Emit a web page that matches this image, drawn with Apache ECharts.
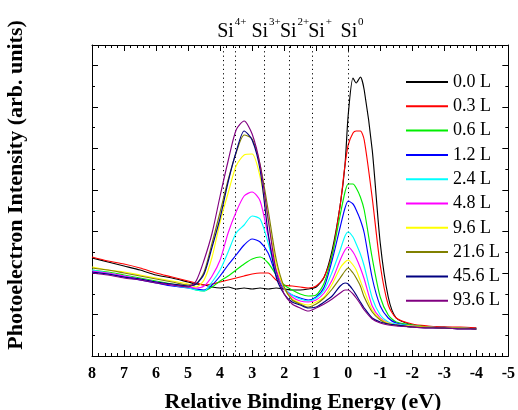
<!DOCTYPE html>
<html><head><meta charset="utf-8">
<script src="https://cdn.jsdelivr.net/npm/echarts@6/dist/echarts.min.js"></script>
<style>html,body{margin:0;padding:0;background:#fff}#c{width:518px;height:410px}</style>
</head><body><div id="c"></div>
<script>
// Relative binding energy (eV)
const energies = [8, 7.5, 7, 6.5, 6, 5.5, 5, 4.75, 4.5, 4.25, 4, 3.75, 3.5, 3.25, 3, 2.75, 2.5, 2.25, 2, 1.75, 1.5, 1.25, 1, 0.75, 0.5, 0.25, 0.1, 0, -0.15, -0.25, -0.38, -0.5, -0.75, -1, -1.25, -1.5, -2, -2.5, -3, -3.5, -4];
// Photoelectron intensity (arb. units) per exposure
const i00 = [98, 94, 90, 86, 81, 78, 74, 72, 71, 69, 68, 69, 67, 68, 67, 68, 67, 68, 67, 66, 66, 67, 69, 79, 106, 151, 191, 241, 278, 273, 279, 266, 206, 113, 59, 38, 31, 29, 29, 28, 28];
const i03 = [99, 95, 92, 88, 83, 79, 75, 73, 71, 72, 74, 76, 78, 80, 82, 83, 83, 76, 71, 70, 69, 68, 70, 79, 102, 151, 191, 211, 223, 225, 225, 216, 158, 91, 51, 38, 32, 30, 29, 29, 28];
const i06 = [86, 84, 81, 78, 75, 72, 69, 66, 65, 69, 75, 80, 86, 92, 97, 99, 93, 81, 71, 66, 62, 60, 61, 73, 101, 141, 164, 172, 172, 168, 159, 146, 98, 59, 41, 34, 31, 29, 28, 28, 27];
const i12 = [84, 82, 79, 76, 73, 70, 68, 67, 66, 71, 80, 91, 101, 111, 117, 114, 103, 81, 67, 61, 58, 56, 59, 69, 96, 129, 148, 155, 152, 146, 136, 123, 78, 50, 38, 33, 30, 29, 28, 28, 27];
const i24 = [86, 83, 80, 77, 74, 71, 68, 66, 65, 74, 86, 104, 123, 131, 140, 137, 113, 83, 68, 61, 57, 55, 58, 66, 84, 106, 120, 124, 119, 112, 102, 90, 58, 41, 34, 32, 30, 29, 28, 28, 27];
const i48 = [85, 83, 80, 77, 74, 71, 69, 68, 70, 80, 96, 123, 144, 160, 164, 155, 120, 86, 68, 59, 55, 54, 56, 63, 76, 96, 106, 109, 104, 98, 88, 77, 50, 38, 33, 31, 30, 29, 28, 28, 27];
const i96 = [89, 86, 84, 81, 78, 75, 72, 69, 76, 99, 134, 163, 190, 201, 202, 179, 136, 92, 68, 57, 53, 51, 54, 59, 72, 88, 94, 96, 91, 86, 75, 65, 46, 37, 33, 31, 30, 29, 28, 28, 27];
const i216 = [88, 86, 83, 80, 77, 74, 71, 72, 84, 113, 144, 176, 203, 221, 217, 191, 146, 97, 69, 56, 52, 49, 52, 58, 67, 78, 85, 88, 83, 78, 70, 59, 44, 36, 32, 31, 29, 29, 28, 28, 27];
const i456 = [84, 82, 79, 77, 74, 72, 70, 72, 82, 109, 138, 174, 204, 225, 216, 186, 123, 79, 62, 54, 51, 48, 49, 54, 60, 70, 73, 72, 66, 61, 54, 48, 38, 34, 32, 31, 29, 28, 28, 27, 27];
const i936 = [83, 81, 78, 76, 73, 71, 69, 75, 96, 123, 160, 195, 226, 235, 222, 191, 137, 85, 62, 52, 48, 45, 48, 52, 57, 63, 66, 66, 62, 58, 52, 46, 37, 33, 31, 30, 29, 28, 28, 27, 27];

const seriesNames = ['0.0 L', '0.3 L', '0.6 L', '1.2 L', '2.4 L', '4.8 L', '9.6 L', '21.6 L', '45.6 L', '93.6 L'];
const seriesValues = [i00, i03, i06, i12, i24, i48, i96, i216, i456, i936];
const seriesColors = ['#000000', '#ff0000', '#00ee00', '#0000ff', '#00ffff', '#ff00ff', '#ffff00', '#808000', '#000080', '#800080'];

// Chemical-shift component positions (eV) and labels
const componentEnergies = [3.91, 3.52, 2.62, 1.84, 1.12, 0];
const componentBase = ['Si', 'Si', 'Si', 'Si', 'Si'];
const componentSup = ['4+', '3+', '2+', '+', '0'];
const componentLabelEnergies = [4.09, 3.02, 2.13, 1.25, 0.24];

const FONT = '"Liberation Serif", "Times New Roman", serif';
const chart = echarts.init(document.getElementById('c'), null, {renderer: 'canvas'});

const axisCommonX = {
  type: 'value', min: -5, max: 8, interval: 1, inverse: true,
  axisLine: {show: true, onZero: false, lineStyle: {color: '#000', width: 1}},
  axisTick: {show: true, inside: true, length: 6, lineStyle: {color: '#000'}},
  minorTick: {show: true, splitNumber: 5, length: 3, lineStyle: {color: '#000'}},
  splitLine: {show: false}, minorSplitLine: {show: false}
};
const axisCommonY = {
  type: 'value', min: 0, max: 311, interval: 41.5,
  axisLine: {show: true, onZero: false, lineStyle: {color: '#000', width: 1}},
  axisTick: {show: true, inside: true, length: 6, lineStyle: {color: '#000'}},
  minorTick: {show: true, splitNumber: 2, length: 3, lineStyle: {color: '#000'}},
  axisLabel: {show: false},
  splitLine: {show: false}, minorSplitLine: {show: false}
};

const series = seriesNames.map((name, k) => ({
  name: name, type: 'line', xAxisIndex: 0, yAxisIndex: 0,
  data: energies.map((e, i) => [e, seriesValues[k][i]]),
  showSymbol: false, symbol: 'none', smooth: 0.25,
  lineStyle: {color: seriesColors[k], width: 1.15},
  itemStyle: {color: seriesColors[k]},
  z: 2 + k,
  markLine: k === 0 ? {
    silent: true, symbol: ['none', 'none'], animation: false,
    label: {show: false},
    lineStyle: {color: '#000', width: 1, type: [1.2, 3.2]},
    data: componentEnergies.map(e => ({xAxis: e}))
  } : undefined
}));

chart.setOption({
  animation: false,
  backgroundColor: '#fff',
  grid: {left: 92, right: 6, top: 45, bottom: 54, containLabel: false},
  xAxis: [
    Object.assign({}, axisCommonX, {position: 'bottom',
      axisLabel: {show: true, color: '#000', fontFamily: FONT, fontSize: 16, fontWeight: 'bold', margin: 10}}),
    Object.assign({}, axisCommonX, {position: 'top', axisLabel: {show: false}})
  ],
  yAxis: [
    Object.assign({}, axisCommonY, {position: 'left'}),
    Object.assign({}, axisCommonY, {position: 'right'})
  ],
  legend: {
    orient: 'vertical', left: 401, top: 68, itemWidth: 42, itemHeight: 2, itemGap: 6.3,
    icon: 'rect', data: seriesNames,
    textStyle: {fontFamily: FONT, fontSize: 18, color: '#000', lineHeight: 17}
  },
  series: series
});

const graphics = [
  {type: 'text', x: 16, y: 185, rotation: Math.PI / 2,
   style: {text: 'Photoelectron Intensity (arb. units)', font: 'bold 22px ' + FONT, fill: '#000', align: 'center', verticalAlign: 'middle'}},
  {type: 'text', x: 303, y: 402,
   style: {text: 'Relative Binding Energy (eV)', font: 'bold 22px ' + FONT, fill: '#000', align: 'center', verticalAlign: 'middle'}}
];
componentLabelEnergies.forEach((e, i) => {
  const px = chart.convertToPixel({xAxisIndex: 0}, e);
  graphics.push({type: 'text', x: px, y: 31.5,
    style: {text: componentBase[i], font: '20px ' + FONT, fill: '#000', align: 'left', verticalAlign: 'middle'}});
  graphics.push({type: 'text', x: px + 17.5, y: 22.5,
    style: {text: componentSup[i], font: '11px ' + FONT, fill: '#000', align: 'left', verticalAlign: 'middle'}});
});
chart.setOption({graphic: graphics});
</script>
</body></html>
